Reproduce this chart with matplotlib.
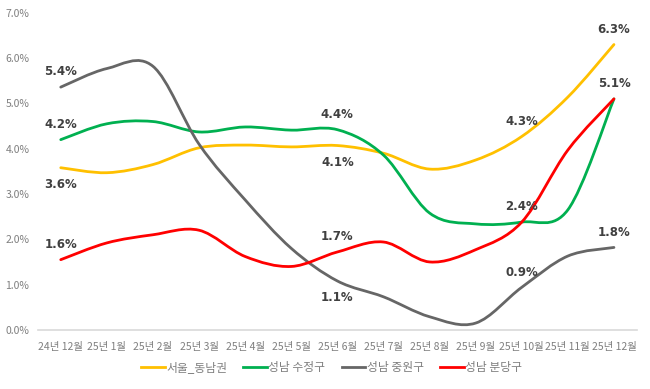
import numpy as np
import matplotlib.pyplot as plt
from matplotlib.path import Path
from matplotlib.patches import PathPatch
from matplotlib.lines import Line2D

plt.rcParams['font.family'] = ['Noto Sans CJK KR', 'DejaVu Sans']

months = ["24년 12월", "25년 1월", "25년 2월", "25년 3월", "25년 4월", "25년 5월", "25년 6월",
          "25년 7월", "25년 8월", "25년 9월", "25년 10월", "25년 11월", "25년 12월"]

seoul_se = [3.58, 3.47, 3.65, 4.02, 4.08, 4.04, 4.07, 3.9, 3.55, 3.75, 4.27, 5.14, 6.3]
sujeong = [4.2, 4.55, 4.6, 4.37, 4.48, 4.41, 4.42, 3.86, 2.58, 2.34, 2.38, 2.65, 5.1]
jungwon = [5.36, 5.77, 5.82, 4.1, 2.87, 1.8, 1.08, 0.73, 0.29, 0.15, 0.94, 1.63, 1.82]
bundang = [1.55, 1.92, 2.1, 2.2, 1.62, 1.4, 1.72, 1.94, 1.5, 1.77, 2.38, 3.97, 5.1]

series = [
    ("서울_동남권", seoul_se, "#FFC000"),
    ("성남 수정구", sujeong, "#00B050"),
    ("성남 중원구", jungwon, "#666666"),
    ("성남 분당구", bundang, "#FF0000"),
]

# which points get a data label, and whether it sits above (+) or below (-)
label_spots = {
    "서울_동남권": [(0, -1), (6, -1), (10, 1), (12, 1)],
    "성남 수정구": [(0, 1), (6, 1)],
    "성남 중원구": [(0, 1), (6, -1), (10, 1), (12, 1)],
    "성남 분당구": [(0, 1), (6, 1), (10, 1), (12, 1)],
}


def smooth_path(x, y):
    # excel-like smoothed line: catmull-rom turned into cubic beziers
    pts = np.column_stack([x, y])
    n = len(pts)
    verts = [pts[0]]
    codes = [Path.MOVETO]
    for i in range(n - 1):
        p0 = pts[max(i - 1, 0)]
        p1 = pts[i]
        p2 = pts[i + 1]
        p3 = pts[min(i + 2, n - 1)]
        c1 = p1 + (p2 - p0) / 6
        c2 = p2 - (p3 - p1) / 6
        verts += [c1, c2, p2]
        codes += [Path.CURVE4] * 3
    return Path(verts, codes)


fig = plt.figure(figsize=(6.5, 3.89), dpi=100)
ax = fig.add_axes([0.058, 0.152, 0.922, 0.815])

x = np.arange(len(months))
handles = []
for name, vals, col in series:
    patch = PathPatch(smooth_path(x, vals), facecolor='none', edgecolor=col, lw=2.0,
                      capstyle='round', joinstyle='round')
    ax.add_patch(patch)
    handles.append(Line2D([], [], color=col, lw=2.0, label=name))
    for idx, side in label_spots[name]:
        ax.annotate(f"{vals[idx]:.1f}%", (x[idx], vals[idx]),
                    xytext=(0, 11 if side > 0 else -12), textcoords='offset points',
                    ha='center', va='center', fontsize=8.5, fontweight='bold',
                    color='#404040', family='DejaVu Sans')

ax.set_xlim(-0.5, len(months) - 0.5)
ax.set_ylim(0, 7)
ax.set_yticks(np.arange(0, 7.01, 1))
ax.set_yticklabels([f"{v:.1f}%" for v in np.arange(0, 7.01, 1)])
ax.set_xticks(x)
ax.set_xticklabels(months)
ax.tick_params(axis='both', length=0, colors='#7f7f7f', labelsize=7.5)
ax.tick_params(axis='x', pad=9)
ax.tick_params(axis='y', pad=6)
for s in ['top', 'right', 'left']:
    ax.spines[s].set_visible(False)
ax.spines['bottom'].set_color('#d9d9d9')
ax.spines['bottom'].set_linewidth(1.2)

leg = fig.legend(handles=handles, loc='center', bbox_to_anchor=(0.51, 0.054), ncol=4,
                 frameon=False, fontsize=8.5, handlelength=2.0, handletextpad=0.1,
                 columnspacing=1.4)
for t in leg.get_texts():
    t.set_color('#7f7f7f')

fig.savefig("out.png", dpi=100)
